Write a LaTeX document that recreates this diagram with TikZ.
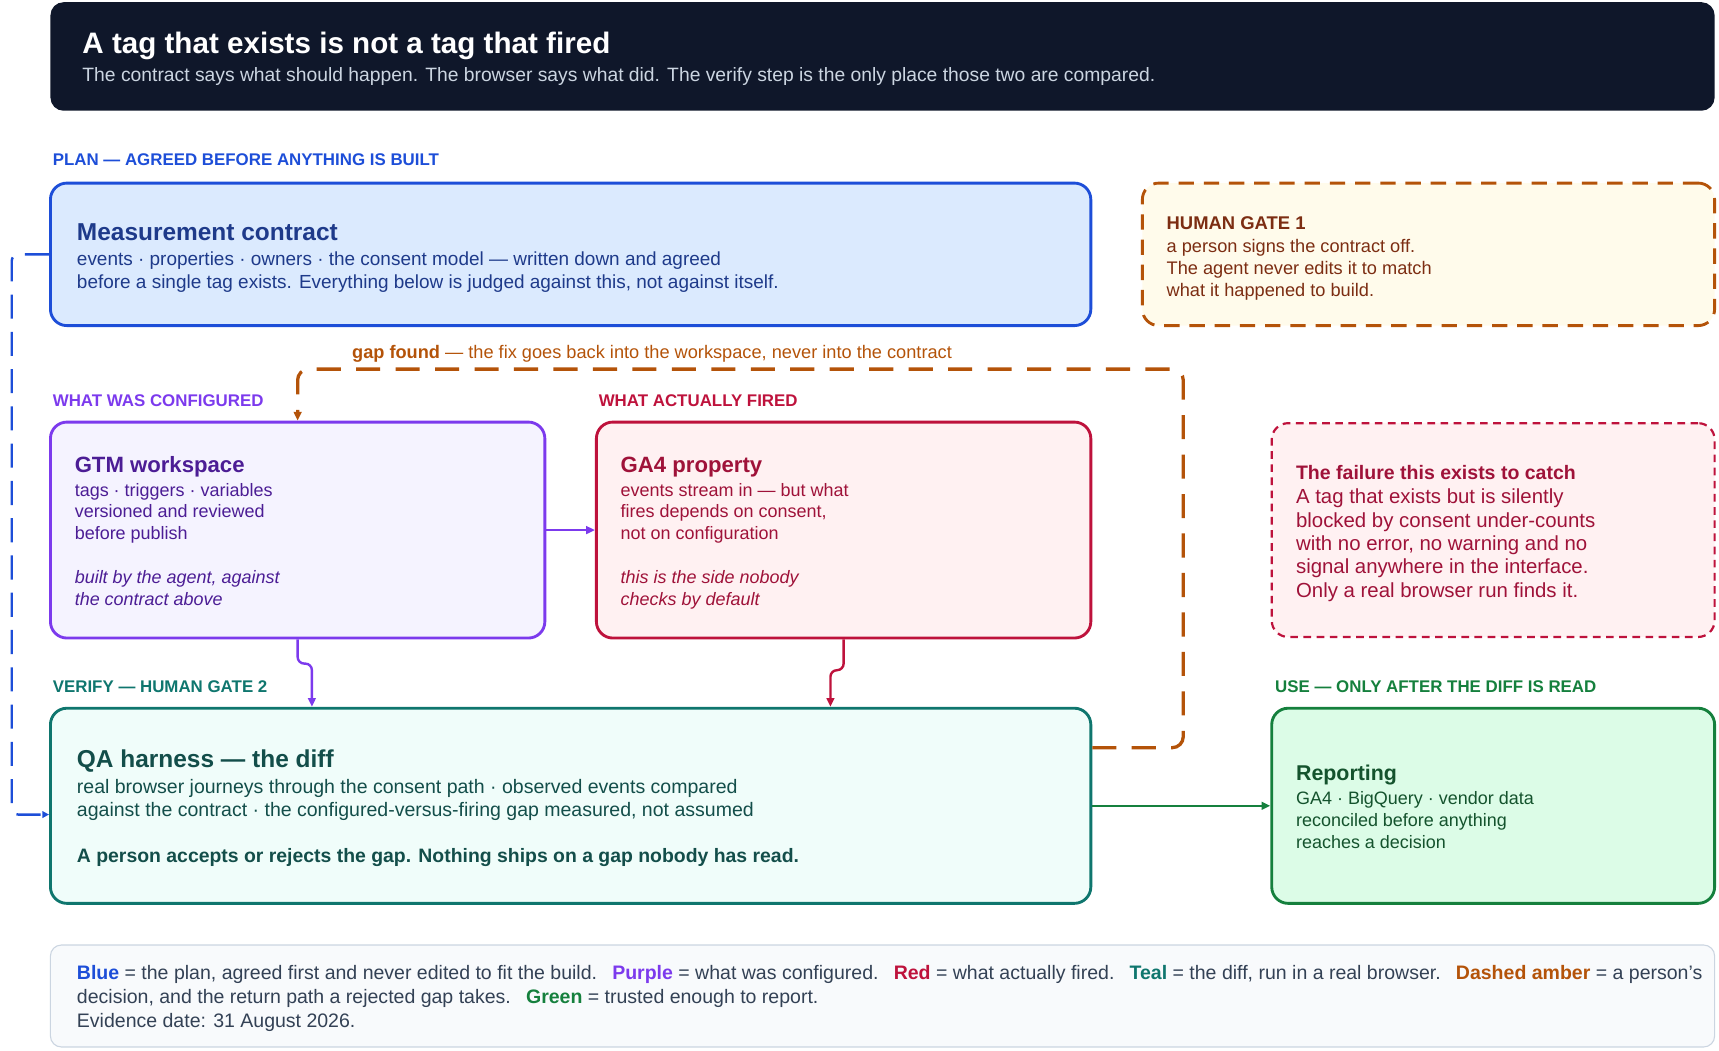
\documentclass[tikz,border=0pt]{standalone}
\usepackage{fontspec}
\setmainfont{Liberation Sans}
\usetikzlibrary{arrows.meta}
\definecolor{hdr}{HTML}{0F172A}
\definecolor{hdrsub}{HTML}{CBD5E1}
\definecolor{bl}{HTML}{1D4ED8}\definecolor{bltx}{HTML}{1E3A8A}\definecolor{blfill}{HTML}{DBEAFE}
\definecolor{pu}{HTML}{7C3AED}\definecolor{putx}{HTML}{4C1D95}\definecolor{pufill}{HTML}{F5F3FF}
\definecolor{rd}{HTML}{BE123C}\definecolor{rdtx}{HTML}{9F1239}\definecolor{rdfill}{HTML}{FFF1F2}
\definecolor{am}{HTML}{B45309}\definecolor{amtx}{HTML}{7C2D12}\definecolor{amfill}{HTML}{FFFBEB}
\definecolor{te}{HTML}{0F766E}\definecolor{tetx}{HTML}{134E4A}\definecolor{tefill}{HTML}{F0FDFA}
\definecolor{gr}{HTML}{15803D}\definecolor{grtx}{HTML}{14532D}\definecolor{grfill}{HTML}{DCFCE7}
\definecolor{lgfill}{HTML}{F8FAFC}\definecolor{lgline}{HTML}{CBD5E1}\definecolor{lgtx}{HTML}{334155}
\begin{document}
\begin{tikzpicture}[x=1pt,y=-1pt,
	box/.style={rectangle,rounded corners=15pt,line width=2.6pt,inner sep=0pt},
	ttl/.style={anchor=base west,inner sep=0pt,font=\fontsize{22.3}{26}\selectfont\bfseries},
	txt/.style={anchor=base west,inner sep=0pt,font=\fontsize{16.4}{19}\selectfont},
	itx/.style={txt,font=\fontsize{16.4}{19}\selectfont\itshape},
	sec/.style={anchor=base west,inner sep=0pt,font=\fontsize{15.4}{18}\selectfont\bfseries},
	arr/.style={-{Triangle[length=8pt,width=7pt]},line width=2.2pt,rounded corners=6pt}]
	\useasboundingbox (0,0) rectangle (1568,958);

	% header
	\node[rectangle,rounded corners=12pt,fill=hdr,minimum width=1518pt,minimum height=99pt,inner sep=0pt] (head) at (805,51.5) {};
	\node[anchor=base west,inner sep=0pt,text=white,font=\fontsize{27}{32}\selectfont\bfseries] (headttl) at (75,49) {A tag that exists is not a tag that fired};
	\node[txt,text=hdrsub,font=\fontsize{17.6}{21}\selectfont] (headsub) at (75,74) {The contract says what should happen. The browser says what did. The verify step is the only place those two are compared.};

	% section labels
	\node[sec,text=bl] (secplan) at (48,151) {PLAN — AGREED BEFORE ANYTHING IS BUILT};
	\node[sec,text=pu] (seccfg) at (48,371) {WHAT WAS CONFIGURED};
	\node[sec,text=rd] (secfired) at (546,371) {WHAT ACTUALLY FIRED};
	\node[sec,text=te] (secverify) at (48,632) {VERIFY — HUMAN GATE 2};
	\node[sec,text=gr] (secuse) at (1163,632) {USE — ONLY AFTER THE DIFF IS READ};

	% boxes
	\node[box,draw=bl,fill=blfill,minimum width=949pt,minimum height=130pt] (contract) at (520.5,232) {};
	\node[box,draw=am,fill=amfill,dash pattern=on 14pt off 9pt,minimum width=522pt,minimum height=130pt] (gate) at (1303,232) {};
	\node[box,draw=pu,fill=pufill,minimum width=451pt,minimum height=197pt] (gtm) at (271.5,483.5) {};
	\node[box,draw=rd,fill=rdfill,minimum width=451pt,minimum height=197pt] (ga4) at (769.5,483.5) {};
	\node[box,draw=rd,fill=rdfill,line width=2pt,dash pattern=on 7pt off 5pt,minimum width=404pt,minimum height=195pt] (failure) at (1362,483.5) {};
	\node[box,draw=te,fill=tefill,minimum width=949pt,minimum height=178pt] (qa) at (520.5,735) {};
	\node[box,draw=gr,fill=grfill,minimum width=404pt,minimum height=178pt] (report) at (1362,735) {};
	\node[rectangle,rounded corners=10pt,draw=lgline,fill=lgfill,line width=1pt,minimum width=1518pt,minimum height=93pt,inner sep=0pt] (legend) at (805,908.5) {};

	% contract text
	\node[ttl,text=bltx] (contractttl) at (70,219) {Measurement contract};
	\node[txt,text=bltx,font=\fontsize{17.3}{20}\selectfont] (contract1) at (70,242) {events · properties · owners · the consent model — written down and agreed};
	\node[txt,text=bltx,font=\fontsize{17.3}{20}\selectfont] (contract2) at (70,263) {before a single tag exists. Everything below is judged against this, not against itself.};

	% gate text
	\node[txt,text=amtx,font=\fontsize{16.8}{20}\selectfont\bfseries] (gatettl) at (1064,209) {HUMAN GATE 1};
	\node[txt,text=amtx,font=\fontsize{16.6}{20}\selectfont] (gate1) at (1064,230) {a person signs the contract off.};
	\node[txt,text=amtx,font=\fontsize{16.6}{20}\selectfont] (gate2) at (1064,250) {The agent never edits it to match};
	\node[txt,text=amtx,font=\fontsize{16.6}{20}\selectfont] (gate3) at (1064,270) {what it happened to build.};

	% gtm text
	\node[ttl,text=putx,font=\fontsize{20.2}{24}\selectfont\bfseries] (gtmttl) at (68,431) {GTM workspace};
	\node[txt,text=putx] (gtm1) at (68,453) {tags · triggers · variables};
	\node[txt,text=putx] (gtm2) at (68,472) {versioned and reviewed};
	\node[txt,text=putx] (gtm3) at (68,492) {before publish};
	\node[itx,text=putx] (gtm4) at (68,532) {built by the agent, against};
	\node[itx,text=putx] (gtm5) at (68,552) {the contract above};

	% ga4 text
	\node[ttl,text=rdtx,font=\fontsize{20.2}{24}\selectfont\bfseries] (ga4ttl) at (566,431) {GA4 property};
	\node[txt,text=rdtx] (ga41) at (566,453) {events stream in — but what};
	\node[txt,text=rdtx] (ga42) at (566,472) {fires depends on consent,};
	\node[txt,text=rdtx] (ga43) at (566,492) {not on configuration};
	\node[itx,text=rdtx] (ga44) at (566,532) {this is the side nobody};
	\node[itx,text=rdtx] (ga45) at (566,552) {checks by default};

	% failure text
	\node[txt,text=rdtx,font=\fontsize{17.8}{21}\selectfont\bfseries] (failttl) at (1182,437) {The failure this exists to catch};
	\node[txt,text=rdtx,font=\fontsize{18.6}{21}\selectfont] (fail1) at (1182,459) {A tag that exists but is silently};
	\node[txt,text=rdtx,font=\fontsize{18.6}{21}\selectfont] (fail2) at (1182,481) {blocked by consent under-counts};
	\node[txt,text=rdtx,font=\fontsize{18.6}{21}\selectfont] (fail3) at (1182,502) {with no error, no warning and no};
	\node[txt,text=rdtx,font=\fontsize{18.6}{21}\selectfont] (fail4) at (1182,523) {signal anywhere in the interface.};
	\node[txt,text=rdtx,font=\fontsize{18.6}{21}\selectfont] (fail5) at (1182,545) {Only a real browser run finds it.};

	% qa text
	\node[ttl,text=tetx] (qattl) at (70,700) {QA harness — the diff};
	\node[txt,text=tetx,font=\fontsize{17.8}{21}\selectfont] (qa1) at (70,724) {real browser journeys through the consent path · observed events compared};
	\node[txt,text=tetx,font=\fontsize{17.8}{21}\selectfont] (qa2) at (70,745) {against the contract · the configured-versus-firing gap measured, not assumed};
	\node[txt,text=tetx,font=\fontsize{17.7}{21}\selectfont\bfseries] (qa3) at (70,787) {A person accepts or rejects the gap. Nothing ships on a gap nobody has read.};

	% reporting text
	\node[ttl,text=grtx,font=\fontsize{19.5}{23}\selectfont\bfseries] (reportttl) at (1182,712) {Reporting};
	\node[txt,text=grtx] (report1) at (1182,734) {GA4 · BigQuery · vendor data};
	\node[txt,text=grtx] (report2) at (1182,754) {reconciled before anything};
	\node[txt,text=grtx] (report3) at (1182,774) {reaches a decision};

	% legend text
	\node[txt,text=lgtx,font=\fontsize{17.8}{21}\selectfont] (legend1) at (70,893) {\textcolor{bl}{\bfseries Blue} = the plan, agreed first and never edited to fit the build.\enspace\ \textcolor{pu}{\bfseries Purple} = what was configured.\enspace\ \textcolor{rd}{\bfseries Red} = what actually fired.\enspace\ \textcolor{te}{\bfseries Teal} = the diff, run in a real browser.\enspace\ \textcolor{am}{\bfseries Dashed amber} = a person’s};
	\node[txt,text=lgtx,font=\fontsize{17.8}{21}\selectfont] (legend2) at (70,915) {decision, and the return path a rejected gap takes.\enspace\ \textcolor{gr}{\bfseries Green} = trusted enough to report.};
	\node[txt,text=lgtx,font=\fontsize{17.8}{21}\selectfont] (legend3) at (70,937) {Evidence date: 31 August 2026.};

	% connectors
	\draw[arr,draw=pu] (gtm.east) -- (ga4.west);
	\draw[arr,draw=pu] (gtm.south) -- ++(0,22) -| ([xshift=13pt]qa.north -| gtm.south);
	\draw[arr,draw=rd] (ga4.south) -- ++(0,28) -| ([xshift=-12pt]qa.north -| ga4.south);
	\draw[arr,draw=gr] (qa.east |- report.west) -- (report.west);
	\draw[arr,draw=bl,line width=2.2pt,dash pattern=on 22pt off 12pt,-{Triangle[length=6pt,width=6pt]}] (contract.west) -- ++(-34,0) |- ([yshift=-8pt]qa.west);
	\draw[arr,draw=am,line width=3pt,dash pattern=on 22pt off 14pt,rounded corners=10pt] ([yshift=53pt]qa.east) -- ++(83,0) |- ([yshift=47pt]gtm.north) -- (gtm.north);
	\node[txt,text=am,font=\fontsize{16.6}{20}\selectfont] (gaplbl) at (321,327) {\textbf{gap found} — the fix goes back into the workspace, never into the contract};
\end{tikzpicture}
\end{document}
